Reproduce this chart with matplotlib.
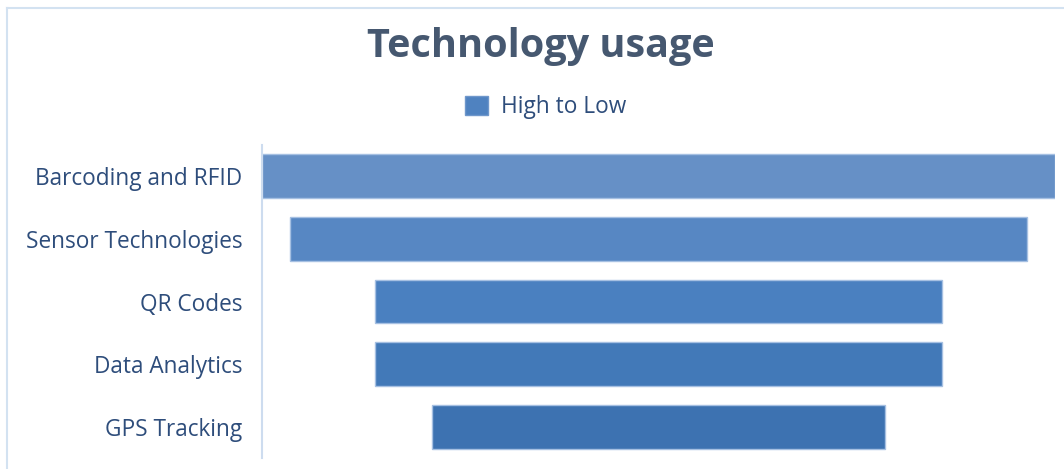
import matplotlib.pyplot as plt
from matplotlib.lines import Line2D
from matplotlib.patches import Patch

# Funnel data (top to bottom)
stages = ['Barcoding and RFID', 'Sensor Technologies', 'QR Codes', 'Data Analytics', 'GPS Tracking']
values = [14, 13, 10, 10, 8]
bar_colors = ['#6690c6', '#5787c3', '#4a80c0', '#4279b8', '#3d72b1']

label_color = '#2e4d7b'
title_color = '#465870'

plt.rcParams['font.family'] = ['Open Sans', 'DejaVu Sans']

fig = plt.figure(figsize=(10.64, 4.69), dpi=100)
ax = fig.add_axes([262 / 1064, 1 - 458 / 469, (1055 - 262) / 1064, (458 - 145) / 469])

top = max(values)
lefts = [(top - v) / 2 for v in values]
ax.barh(range(len(stages)), values, left=lefts, height=0.7,
        color=bar_colors, edgecolor='#a6c0e2', linewidth=1)

ax.set_xlim(0, top)
ax.set_ylim(len(stages) - 0.5, -0.5)
ax.set_yticks(range(len(stages)))
ax.set_yticklabels(stages, fontsize=16.3, color=label_color)
ax.tick_params(axis='y', length=0, pad=14)
ax.set_xticks([])
for side in ['top', 'right', 'bottom']:
    ax.spines[side].set_visible(False)
ax.spines['left'].set_color('#cddcef')
ax.spines['left'].set_linewidth(1.5)

fig.text(0.508, 1 - 47 / 469, 'Technology usage', ha='center', va='center',
         fontsize=28.5, fontweight='bold', color=title_color)

handle = Patch(facecolor='#4f82c0', edgecolor='#6f97cb')
fig.legend([handle], ['High to Low'], loc='center', bbox_to_anchor=(0.513, 1 - 107 / 469),
           frameon=False, fontsize=16.3, labelcolor=label_color,
           handlelength=1.0, handleheight=0.9, handletextpad=0.6)

# light outer chart border (left and top edges)
fig.add_artist(Line2D([7 / 1064, 7 / 1064], [0, 1 - 8 / 469], transform=fig.transFigure,
                      color='#d3e2f1', linewidth=1.5))
fig.add_artist(Line2D([7 / 1064, 1], [1 - 8 / 469, 1 - 8 / 469], transform=fig.transFigure,
                      color='#d3e2f1', linewidth=1.5))

fig.savefig('out.png', dpi=100, facecolor='white')
